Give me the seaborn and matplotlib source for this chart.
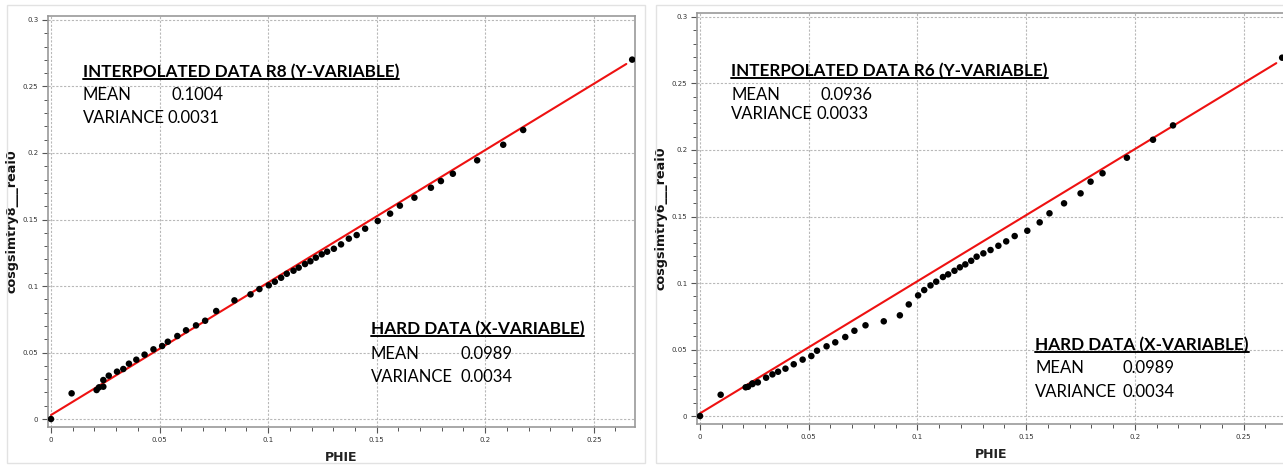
import numpy as np
import pandas as pd
import matplotlib
matplotlib.use("Agg")
import matplotlib.pyplot as plt
from matplotlib.lines import Line2D
from matplotlib.patches import Rectangle
from matplotlib.ticker import MultipleLocator, FuncFormatter
import matplotlib.transforms as mtransforms
import seaborn as sns

# hard data (x) shared by both panels
phie = [0.0, 0.0095, 0.021, 0.0221, 0.0241, 0.0241, 0.0266, 0.0304, 0.0333, 0.0359,
        0.0393, 0.0431, 0.0472, 0.0512, 0.0538, 0.0582, 0.0622, 0.0668, 0.071, 0.0761,
        0.0845, 0.0919, 0.096, 0.1003, 0.1031, 0.106, 0.1086, 0.1117, 0.1141, 0.117,
        0.1195, 0.122, 0.1247, 0.1272, 0.1303, 0.1336, 0.1372, 0.1408, 0.1447, 0.1505,
        0.1562, 0.1607, 0.1674, 0.175, 0.1796, 0.1851, 0.1963, 0.2083, 0.2175, 0.2677]
r8 = [0.0, 0.0193, 0.0218, 0.0238, 0.0243, 0.0293, 0.0326, 0.0356, 0.0376, 0.0416,
      0.0446, 0.0484, 0.0524, 0.0549, 0.0581, 0.0624, 0.0667, 0.0704, 0.0739, 0.0812,
      0.0892, 0.0937, 0.0977, 0.1005, 0.1032, 0.1062, 0.1092, 0.1115, 0.1138, 0.1165,
      0.1186, 0.1213, 0.1238, 0.1258, 0.128, 0.1313, 0.1356, 0.1383, 0.1431, 0.1489,
      0.1544, 0.1604, 0.1664, 0.1739, 0.1789, 0.1844, 0.1945, 0.2062, 0.2173, 0.2702]
r6 = [0.0, 0.016, 0.0216, 0.022, 0.024, 0.0245, 0.0253, 0.0288, 0.0313, 0.0333,
      0.0356, 0.0389, 0.0424, 0.0451, 0.0491, 0.0524, 0.0554, 0.0594, 0.0641, 0.0682,
      0.0712, 0.0757, 0.0839, 0.0907, 0.0947, 0.0982, 0.101, 0.1045, 0.1065, 0.1092,
      0.1118, 0.114, 0.1167, 0.1198, 0.1223, 0.1248, 0.128, 0.1313, 0.1353, 0.1393,
      0.1456, 0.1524, 0.1599, 0.1674, 0.1762, 0.1825, 0.1942, 0.2077, 0.2185, 0.2694]

# red reference lines
fit_intercept = [0.003, 0.002]
fit_slope = [0.996, 0.9936]
fit_range = [0.0, 0.265]

ylabels = ["cosgsimtry8___real0", "cosgsimtry6___real0"]
interp_titles = ["INTERPOLATED DATA R8 (Y-VARIABLE)", "INTERPOLATED DATA R6 (Y-VARIABLE)"]
interp_mean = ["0.1004", "0.0936"]
interp_var = ["0.0031", "0.0033"]
hard_title = "HARD DATA (X-VARIABLE)"
hard_mean = "0.0989"
hard_var = "0.0034"

sns.set_theme(style="ticks")
W, H = 1283, 466
fig = plt.figure(figsize=(W / 100, H / 100), dpi=100)
fig.patch.set_facecolor("white")

# panel frames (screenshot borders)
for (x0, x1) in [(7, 645), (656, 1290)]:
    fig.patches.append(Rectangle((x0 / W, 1 - 463 / H), (x1 - x0) / W, (463 - 5) / H,
                                 transform=fig.transFigure, fill=False,
                                 edgecolor="#e2e2e2", linewidth=1.0))

# axes rectangles in pixels: left, right, top, bottom
rects = [(48, 635, 16, 427), (697, 1285, 13, 424)]
# text anchor positions (data coords)
interp_pos = [(0.0147, 0.257, 0.0553, 0.240, 0.2226), (0.0143, 0.2556, 0.0552, 0.2376, 0.2235)]
hard_pos = [(0.1473, 0.0639, 0.1885, 0.0451, 0.0278), (0.1541, 0.0496, 0.1941, 0.0321, 0.0145)]

txtfont = ["Lato", "DejaVu Sans"]
narrow = ["Liberation Sans Narrow", "DejaVu Sans"]
headers = []

for i, (l, r, t, b) in enumerate(rects):
    ax = fig.add_axes([l / W, 1 - b / H, (r - l) / W, (b - t) / H])
    df = pd.DataFrame({"PHIE": phie, "Y": r8 if i == 0 else r6})
    xs = np.array(fit_range)
    line = pd.DataFrame({"PHIE": xs, "Y": fit_intercept[i] + fit_slope[i] * xs})
    sns.lineplot(data=line, x="PHIE", y="Y", ax=ax, color="#ee1111", linewidth=1.5, zorder=3)
    sns.scatterplot(data=df, x="PHIE", y="Y", ax=ax, color="black", s=22,
                    edgecolor="none", zorder=4, clip_on=True)
    ax.set_xlim(-0.00138, 0.269)
    ax.set_ylim(-0.006, 0.303)
    ax.xaxis.set_major_locator(MultipleLocator(0.05))
    ax.yaxis.set_major_locator(MultipleLocator(0.05))
    ax.xaxis.set_minor_locator(MultipleLocator(0.01))
    ax.yaxis.set_minor_locator(MultipleLocator(0.01))
    fmt = FuncFormatter(lambda v, p: "%g" % round(v, 3))
    ax.xaxis.set_major_formatter(fmt)
    ax.yaxis.set_major_formatter(fmt)
    ax.grid(True, which="major", linestyle=(0, (2, 1.5)), color="#b8b8b8", linewidth=0.8)
    ax.tick_params(which="major", direction="out", length=4, width=0.8, color="#555555",
                   labelsize=5, labelcolor="#333333", pad=3)
    ax.tick_params(which="minor", direction="out", length=3, width=0.7, color="#555555")
    for lab in ax.get_xticklabels() + ax.get_yticklabels():
        lab.set_family(narrow)
    for sp in ax.spines.values():
        sp.set_color("#999999")
        sp.set_linewidth(1.2)
    ax.set_xlabel("PHIE", family=narrow, fontweight="bold", fontsize=9, color="#222222", labelpad=6)
    ax.set_ylabel(ylabels[i], family=["DejaVu Sans"], fontweight="bold", fontsize=9.2,
                  color="#111111", labelpad=3)

    hx, hy, vx, my, vy = interp_pos[i]
    h = ax.text(hx, hy, interp_titles[i], family=txtfont, fontweight="bold", fontsize=12.3,
                color="black")
    headers.append(h)
    ax.text(hx, my, "MEAN", family=txtfont, fontsize=12, color="black")
    ax.text(vx, my, interp_mean[i], family=txtfont, fontsize=12, color="black")
    ax.text(hx, vy, "VARIANCE", family=txtfont, fontsize=12, color="black")
    ax.text(vx - 0.0015, vy, interp_var[i], family=txtfont, fontsize=12, color="black")

    hx, hy, vx, my, vy = hard_pos[i]
    h = ax.text(hx, hy, hard_title, family=txtfont, fontweight="bold", fontsize=12.3, color="black")
    headers.append(h)
    ax.text(hx, my, "MEAN", family=txtfont, fontsize=12, color="black")
    ax.text(vx, my, hard_mean, family=txtfont, fontsize=12, color="black")
    ax.text(hx, vy, "VARIANCE", family=txtfont, fontsize=12, color="black")
    ax.text(vx, vy, hard_var, family=txtfont, fontsize=12, color="black")

# underline the headers
fig.canvas.draw()
renderer = fig.canvas.get_renderer()
for h in headers:
    bb = h.get_window_extent(renderer)
    fig.add_artist(Line2D([bb.x0, bb.x1], [bb.y0 + 1, bb.y0 + 1], color="black",
                          linewidth=1.4, transform=mtransforms.IdentityTransform()))

fig.savefig("out.png", dpi=100)
